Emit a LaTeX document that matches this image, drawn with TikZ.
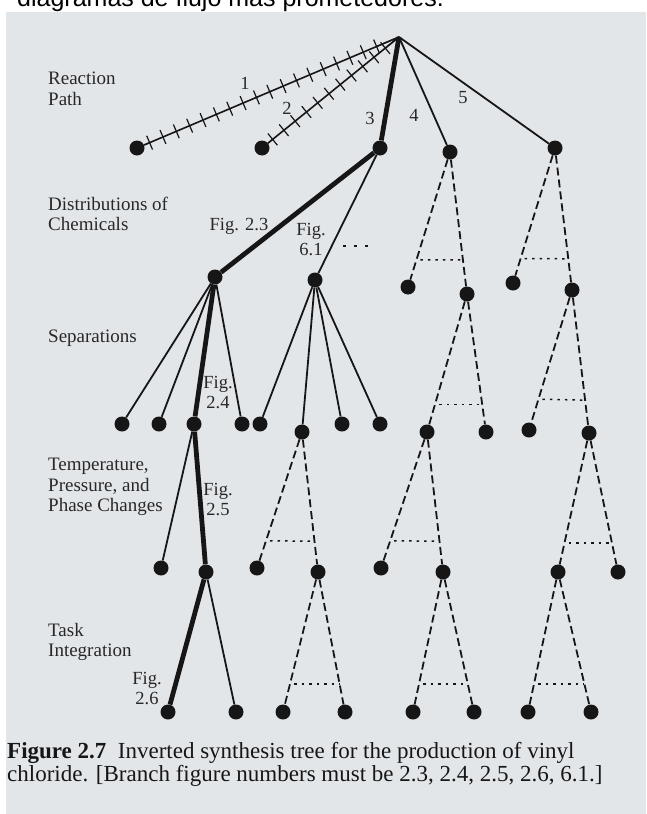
\documentclass[tikz,border=0pt]{standalone}
\usepackage{fontspec}
\setmainfont{Liberation Serif}
\newfontfamily\topfont{Liberation Sans}
\usetikzlibrary{calc,decorations.pathreplacing}
\definecolor{panel}{RGB}{227,230,233}
\definecolor{ink}{RGB}{22,22,22}
\definecolor{txt}{RGB}{40,40,40}
\begin{document}
\begin{tikzpicture}[x=1pt,y=-1pt,
  dot/.style={circle,fill=ink,inner sep=0pt,minimum size=15pt},
  edge/.style={draw=ink,line width=1.8pt},
  bold/.style={draw=ink,line width=4.8pt},
  dashedge/.style={draw=ink,line width=1.8pt,dash pattern=on 8pt off 4pt},
  dotline/.style={draw=ink,line width=1.5pt,dash pattern=on 2.5pt off 5pt},
  ellip/.style={draw=ink,line width=1.5pt,dash pattern=on 3pt off 8pt},
  crossed/.style={draw=ink,line width=1.6pt,
    postaction={decorate,draw=ink,line width=1.2pt,
      decoration={ticks,segment length=14.5pt,amplitude=7.5pt,pre length=6pt,post length=10pt}}},
  lvl/.style={font=\fontsize{19}{20.5}\selectfont,text=txt,align=left,anchor=west,inner sep=0pt},
  fig/.style={font=\fontsize{18.5}{20}\selectfont,text=txt,align=center,inner sep=0pt},
  num/.style={font=\fontsize{18.5}{20}\selectfont,text=txt,inner sep=0pt},
  captext/.style={font=\fontsize{23}{23}\selectfont,text=ink,align=left,anchor=north west,inner sep=0pt},
]
\useasboundingbox (0,0) rectangle (646,814);
\fill[white] (0,0) rectangle (646,814);
\fill[panel] (6,12) rectangle (646,814);
\node[font=\topfont\fontsize{25}{25}\selectfont,anchor=base west,inner sep=0pt,text=black] (toptext) at (17,6) {diagramas de flujo más prometedores.};

% level labels
\node[lvl] (lreac) at (48,89) {Reaction\\Path};
\node[lvl] (ldist) at (48,214) {Distributions of\\Chemicals};
\node[lvl] (lsep) at (48,338) {Separations};
\node[lvl] (ltemp) at (48,487) {Temperature,\\Pressure, and\\Phase Changes};
\node[lvl] (ltask) at (48,642) {Task\\Integration};

% nodes
\coordinate (r) at (399,37);
\node[dot] (a1) at (137,148) {};
\node[dot] (a2) at (262,148) {};
\node[dot] (a3) at (380,148) {};
\node[dot] (a4) at (450,152) {};
\node[dot] (a5) at (555,148) {};

\node[dot] (b1) at (215,277) {};
\node[dot] (b2) at (315,280) {};
\node[dot] (b3) at (408,287) {};
\node[dot] (b4) at (467,294) {};
\node[dot] (b5) at (513,283) {};
\node[dot] (b6) at (572,290) {};

\node[dot] (c1) at (122,424) {};
\node[dot] (c2) at (159,424) {};
\node[dot] (c3) at (194,424) {};
\node[dot] (c4) at (242,424) {};
\node[dot] (c5) at (260,424) {};
\node[dot] (c6) at (302,432) {};
\node[dot] (c7) at (342,424) {};
\node[dot] (c8) at (380,424) {};
\node[dot] (c9) at (427,432) {};
\node[dot] (c10) at (486,432) {};
\node[dot] (c11) at (529,430) {};
\node[dot] (c12) at (589,433) {};

\node[dot] (d1) at (161,568) {};
\node[dot] (d2) at (206,572) {};
\node[dot] (d3) at (257,568) {};
\node[dot] (d4) at (318,572) {};
\node[dot] (d5) at (381,568) {};
\node[dot] (d6) at (443,572) {};
\node[dot] (d7) at (558,572) {};
\node[dot] (d8) at (618,572) {};

\node[dot] (e1) at (168,712) {};
\node[dot] (e2) at (236,712) {};
\node[dot] (e3) at (283,712) {};
\node[dot] (e4) at (345,712) {};
\node[dot] (e5) at (413,712) {};
\node[dot] (e6) at (474,712) {};
\node[dot] (e7) at (528,712) {};
\node[dot] (e8) at (591,712) {};

% reaction paths
\draw[crossed] (a1) -- (r);
\draw[crossed] (a2) -- (r);
\draw[bold] (r) -- (a3);
\draw[edge] (r) -- (a4);
\draw[edge] (r) -- (a5);

% bold main branch
\draw[bold] (a3) -- (b1);
\draw[bold] (b1) -- (c3);
\draw[bold] (c3) -- (d2);
\draw[bold] (d2) -- (e1);

% solid branches
\draw[edge] (a3) -- (b2);
\foreach \c in {c1,c2,c4} \draw[edge] (b1) -- (\c);
\foreach \c in {c5,c6,c7,c8} \draw[edge] (b2) -- (\c);
\draw[edge] (c3) -- (d1);
\draw[edge] (d2) -- (e2);

% dashed branches with dotted cross lines
\foreach \p/\l/\rr/\fl/\fr in {a4/b3/b4/0.80/0.76, a5/b5/b6/0.82/0.78,
   b4/c9/c10/0.80/0.80, b6/c11/c12/0.78/0.77,
   c6/d3/d4/0.80/0.78, c9/d5/d6/0.80/0.78, c12/d7/d8/0.79/0.79,
   d4/e3/e4/0.80/0.80, d6/e5/e6/0.80/0.80, d7/e7/e8/0.80/0.80} {
  \draw[dashedge] (\p) -- (\l);
  \draw[dashedge] (\p) -- (\rr);
  \coordinate (x\l) at ($(\p)!\fl!(\l)$);
  \coordinate (x\rr) at ($(\p)!\fr!(\rr)$);
  \draw[dotline,dash phase=-4pt] (x\l) -- (x\rr);
}

% ellipsis right of Fig. 6.1
\coordinate (el1) at (343,246);
\coordinate (el2) at (370,246);
\draw[ellip] (el1) -- (el2);

% numbers
\node[num] (n1) at (245,83) {1};
\node[num] (n2) at (287,108) {2};
\node[num] (n3) at (370,118) {3};
\node[num] (n4) at (414,115) {4};
\node[num] (n5) at (463,98) {5};

% figure labels
\node[fig] (f23) at (239,226) {Fig. 2.3};
\node[fig] (f61) at (311,240) {Fig.\\6.1};
\node[fig] (f24) at (218,393) {Fig.\\2.4};
\node[fig] (f25) at (218,499) {Fig.\\2.5};
\node[fig] (f26) at (147,688) {Fig.\\2.6};

% caption
\node[captext] (caption) at (7,742) {\textbf{Figure 2.7}\enspace Inverted synthesis tree for the production of vinyl\\chloride. [Branch figure numbers must be 2.3, 2.4, 2.5, 2.6, 6.1.]};
\end{tikzpicture}
\end{document}
